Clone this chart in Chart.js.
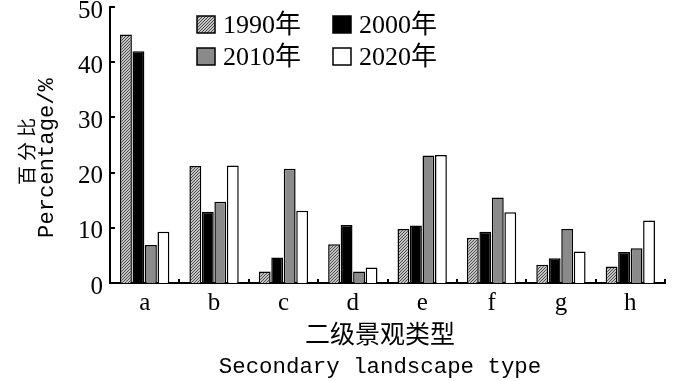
<!DOCTYPE html>
<html>
<head>
<meta charset="utf-8">
<script src="https://cdn.jsdelivr.net/npm/chart.js@4"></script>
<style>
  html, body { margin: 0; padding: 0; background: #fff; }
  #wrap { width: 700px; height: 381px; }
</style>
</head>
<body>
<div id="wrap"><canvas id="bieuDo"></canvas></div>
<script>
const categories = ['a', 'b', 'c', 'd', 'e', 'f', 'g', 'h'];
const seriesNames = ['1990年', '2000年', '2010年', '2020年'];
const v1990 = [45.0, 21.2, 2.1, 7.0, 9.8, 8.2, 3.3, 3.0];
const v2000 = [42.0, 12.9, 4.6, 10.5, 10.4, 9.3, 4.5, 5.6];
const v2010 = [6.9, 14.7, 20.7, 2.1, 23.1, 15.5, 9.8, 6.3];
const v2020 = [9.3, 21.3, 13.1, 2.8, 23.2, 12.8, 5.7, 11.3];
const yTicks = [0, 10, 20, 30, 40, 50];

// hatch pattern for 1990
function taoHoaVan() {
    const c = document.createElement('canvas');
    c.width = 3; c.height = 3;
    const g = c.getContext('2d');
    g.fillStyle = '#c4c4c4';
    g.fillRect(0, 0, 3, 3);
    g.fillStyle = '#4a4a4a';
    g.fillRect(2, 0, 1, 1);
    g.fillRect(1, 1, 1, 1);
    g.fillRect(0, 2, 1, 1);
    return g.createPattern(c, 'repeat');
}

const mauNen = [taoHoaVan(), '#000000', '#8a8a8a', '#ffffff'];
const duLieu = [v1990, v2000, v2010, v2020];

const serif = '"Liberation Serif", "Noto Sans CJK SC", serif';
const mono = '"Liberation Mono", "Noto Sans CJK SC", monospace';

// inward ticks, axis titles, legend
const veThem = {
    id: 'veThem',
    afterDraw(chart) {
        const ctx = chart.ctx;
        const x = chart.scales.x, y = chart.scales.y;
        ctx.save();
        ctx.strokeStyle = '#000';
        ctx.lineWidth = 2;
        ctx.beginPath();
        yTicks.forEach(t => {
            const py = Math.round(y.getPixelForValue(t));
            ctx.moveTo(x.left, py); ctx.lineTo(x.left + 5, py);
        });
        for (let i = 0; i <= categories.length; i++) {
            const px = Math.round(x.getPixelForValue(i - 0.5));
            ctx.moveTo(px, y.bottom); ctx.lineTo(px, y.bottom - 4);
        }
        ctx.stroke();

        ctx.fillStyle = '#000';
        ctx.textAlign = 'center';
        ctx.textBaseline = 'middle';
        ctx.font = '25px "Noto Sans CJK SC"';
        ctx.fillText('二级景观类型', 380, 333);
        ctx.font = '22.4px ' + mono;
        ctx.fillText('Secondary landscape type', 380, 367);

        ctx.save();
        ctx.translate(27, 151);
        ctx.rotate(-Math.PI / 2);
        ctx.font = '19px "Noto Sans CJK SC"';
        ctx.letterSpacing = '5px';
        ctx.fillText('百分比', 2, 0);
        ctx.restore();
        ctx.save();
        ctx.translate(47, 158);
        ctx.rotate(-Math.PI / 2);
        ctx.font = '22.2px ' + mono;
        ctx.fillText('Percentage/%', 0, 0);
        ctx.restore();

        // legend
        const viTri = [[197, 16], [333, 16], [197, 48], [333, 48]];
        ctx.textAlign = 'left';
        ctx.font = '26px ' + serif;
        chart.data.datasets.forEach((ds, i) => {
            const [bx, by] = viTri[i];
            ctx.fillStyle = ds.backgroundColor;
            ctx.fillRect(bx, by, 18, 17);
            ctx.lineWidth = 1.5;
            ctx.strokeStyle = '#000';
            ctx.strokeRect(bx, by, 18, 17);
            ctx.fillStyle = '#000';
            ctx.fillText(ds.label, bx + 26, by + 10);
        });
        ctx.restore();
    }
};

const ctx = document.getElementById('bieuDo').getContext('2d');
new Chart(ctx, {
    type: 'bar',
    data: {
        labels: categories,
        datasets: seriesNames.map((ten, i) => ({
            label: ten,
            data: duLieu[i],
            backgroundColor: mauNen[i],
            borderColor: '#000',
            borderWidth: 1.5,
            categoryPercentage: 0.72,
            barPercentage: 0.95
        }))
    },
    options: {
        responsive: true,
        maintainAspectRatio: false,
        animation: false,
        layout: { padding: { top: 7, right: 35, left: 0, bottom: 0 } },
        plugins: {
            legend: { display: false },
            tooltip: { enabled: false }
        },
        scales: {
            x: {
                grid: { display: false, drawTicks: false },
                border: { display: true, color: '#000', width: 2 },
                ticks: { color: '#000', font: { family: serif, size: 25 }, padding: 5 },
                afterFit(s) { s.height = 98; s.paddingLeft = 0; s.paddingRight = 0; }
            },
            y: {
                min: 0,
                max: 50,
                grid: { display: false, drawTicks: false },
                border: { display: true, color: '#000', width: 2 },
                ticks: {
                    stepSize: 10,
                    color: '#000',
                    padding: 7,
                    labelOffset: 4,
                    font: { family: serif, size: 25 }
                },
                afterFit(s) { s.width = 110; s.paddingTop = 0; s.paddingBottom = 0; }
            }
        }
    },
    plugins: [veThem]
});
</script>
</body>
</html>
